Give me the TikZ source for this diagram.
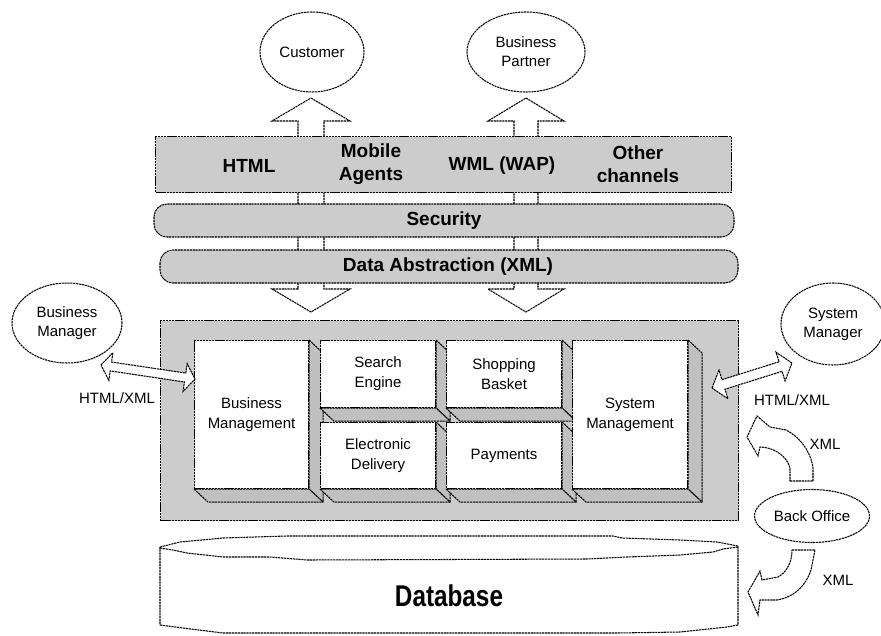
\documentclass[tikz,border=0pt]{standalone}
\usepackage{fontspec}
\setmainfont{Liberation Sans}
\usepackage{graphicx}
\usetikzlibrary{calc,shapes.geometric}

\definecolor{panel}{HTML}{CCCCCC}
\definecolor{face}{HTML}{C0C0C0}

\tikzset{
  dsh/.style={line width=1.05pt, dash pattern=on 2.2pt off 0.7pt},
  plate/.style={dsh, draw, fill=panel},
  band/.style={dsh, draw, fill=panel, rounded corners=13pt},
  actor/.style={dsh, draw, fill=white, ellipse, inner sep=0pt, align=center,
    font=\fontsize{15}{19}\selectfont},
  front/.style={dsh, draw, fill=white, align=center, inner sep=0pt,
    font=\fontsize{15}{20}\selectfont},
  sideface/.style={dsh, draw, fill=face, line join=round},
  blk/.style={dsh, draw, fill=white, line join=miter},
  heading/.style={font=\fontsize{19}{23}\selectfont\bfseries, align=center},
  note/.style={font=\fontsize{15}{19}\selectfont},
}

% hollow double-headed block arrow between two tips:
% #1,#2 tips, #3 half shaft width, #4 half head width, #5 head length
\newcommand\dblarrow[5]{%
  \draw[blk] (#1)
    -- ($(#1)!#5!(#2)!#4!90:(#2)$)
    -- ($(#1)!#5!(#2)!#3!90:(#2)$)
    -- ($(#2)!#5!(#1)!#3!-90:(#1)$)
    -- ($(#2)!#5!(#1)!#4!-90:(#1)$)
    -- (#2)
    -- ($(#2)!#5!(#1)!#4!90:(#1)$)
    -- ($(#2)!#5!(#1)!#3!90:(#1)$)
    -- ($(#1)!#5!(#2)!#3!-90:(#2)$)
    -- ($(#1)!#5!(#2)!#4!-90:(#2)$)
    -- cycle;}

% raised module: name, x, y, width, height, text
\newcommand\slab[6]{%
  \node[front, minimum width=#4pt, minimum height=#5pt, anchor=north west]
    (#1) at (#2,#3) {#6};
  \draw[sideface] (#1.north east) -- ++(14,13) -- ($(#1.south east)+(14,13)$)
    -- (#1.south east) -- cycle;
  \draw[sideface] (#1.south west) -- ++(14,13) -- ($(#1.south east)+(14,13)$)
    -- (#1.south east) -- cycle;}

\begin{document}
\begin{tikzpicture}[x=1pt, y=-1pt]
\useasboundingbox (0,0) rectangle (881,635);

% external actors
\node[actor, minimum width=104pt, minimum height=80pt] (cust) at (312,52) {Customer};
\node[actor, minimum width=118pt, minimum height=80pt] (bp) at (526,52) {Business\\Partner};
\node[actor, minimum width=110pt, minimum height=80pt] (bman) at (67,323) {Business\\Manager};
\node[actor, minimum width=104pt, minimum height=82pt] (sman) at (833,324) {System\\Manager};
\node[actor, minimum width=115pt, minimum height=53pt] (bo) at (812,516) {Back Office};

% vertical channels through the layers
\coordinate (c1) at (311,98);  \coordinate (c2) at (311,312);
\coordinate (p1) at (526,98);  \coordinate (p2) at (526,312);
\dblarrow{c1}{c2}{13pt}{39pt}{23pt}
\dblarrow{p1}{p2}{12pt}{38pt}{23pt}

% presentation channels
\node[plate, minimum width=576pt, minimum height=56pt, anchor=north west] (chan) at (155,136) {};
\node[heading] (html) at (249,166) {HTML};
\node[heading] (mob) at (371,164) {Mobile\\Agents};
\node[heading] (wml) at (502,166) {WML (WAP)};
\node[heading] (oth) at (638,164) {Other\\channels};

% middleware bands
\draw[band] (154,204) rectangle (734,237);
\node[heading] (sec) at (444,221) {Security};
\draw[band] (160,250) rectangle (738,283);
\node[heading] (dabs) at (448,267) {Data Abstraction (XML)};

% application server
\node[plate, minimum width=578pt, minimum height=200pt, anchor=north west] (core) at (160,320) {};
\slab{bmg}{194}{340}{114}{148}{Business\\Management}
\slab{se}{320}{340}{115}{67}{Search\\Engine}
\slab{ed}{320}{422}{115}{66}{Electronic\\Delivery}
\slab{sb}{446}{340}{115}{67}{Shopping\\Basket}
\slab{pay}{446}{422}{115}{66}{Payments}
\slab{smg}{572}{340}{115}{148}{System\\Management}

% management access
\coordinate (l1) at (101,365); \coordinate (l2) at (195,379);
\dblarrow{l1}{l2}{4.5pt}{14pt}{10pt}
\coordinate (r1) at (712,388); \coordinate (r2) at (792,363);
\dblarrow{r1}{r2}{5pt}{15pt}{12pt}
\node[note] (lx) at (117,398) {HTML/XML};
\node[note] (rx) at (792,400) {HTML/XML};

% back office feeds
\draw[blk] (790,481) -- (813,481) -- (813,468)
  .. controls (811,452) and (800,437) .. (786,430) -- (770,427)
  -- (757,416) -- (747,437) -- (758,456) -- (760,447)
  .. controls (772,447) and (787,455) .. (790,468) -- cycle;
\node[note] (x1) at (825,444) {XML};
\draw[blk] (792,550) -- (815,550) -- (811,570)
  .. controls (806,585) and (795,597) .. (777,600) -- (760,600)
  -- (758,615) -- (748,592) -- (760,571) -- (762,580) -- (778,577)
  .. controls (787,572) and (792,562) .. (792,550) -- cycle;
\node[note] (x2) at (838,580) {XML};

% database
\draw[dsh, fill=white, line join=round]
  (160,547) -- (180,542) -- (223,538) -- (287,536) -- (613,536) -- (622,538)
  -- (680,540) -- (717,542) -- (738,546) -- (738,625) -- (727,627) -- (680,632)
  -- (617,633) -- (283,633) -- (223,633) -- (183,628) -- (160,625) -- cycle;
\draw[dsh] (160,548) -- (173,550) -- (187,553) -- (223,557) -- (270,557)
  -- (307,560) -- (587,559) -- (627,557) -- (680,555) -- (713,552)
  -- (723,549) -- (738,547);
\node[font=\fontsize{30}{34}\selectfont\bfseries] (db) at (449,596)
  {\scalebox{0.81}[1]{Database}};
\end{tikzpicture}
\end{document}
